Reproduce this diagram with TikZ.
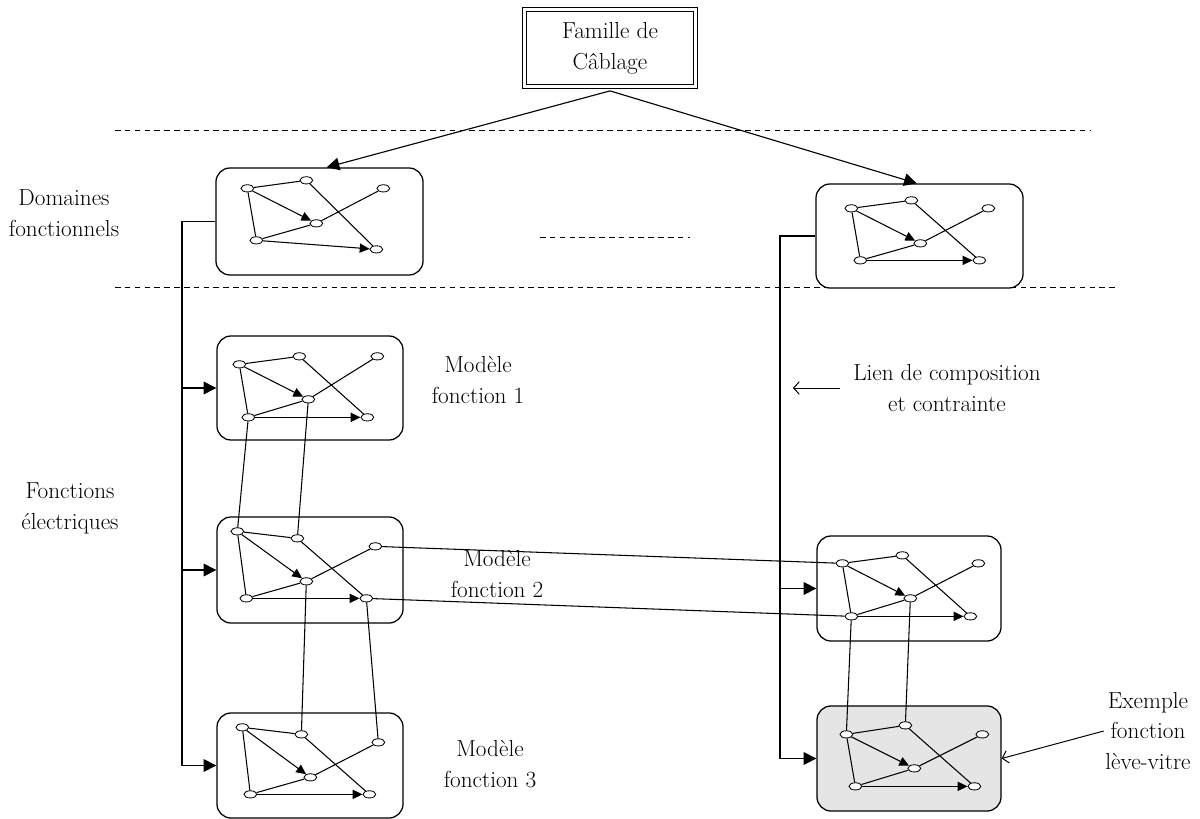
\documentclass[tikz,border=0pt]{standalone}
\usepackage{fontspec}
\usepackage{tikz}
\usetikzlibrary{arrows.meta, shapes.geometric}

% un petit reseau de six sommets, place dans la boite #2
\newcommand{\reseau}[8]{%
  \begin{scope}[shift={(#2.north west)}]
    \node[sommet] (#1a) at #3 {};
    \node[sommet] (#1b) at #4 {};
    \node[sommet] (#1c) at #5 {};
    \node[sommet] (#1d) at #6 {};
    \node[sommet] (#1e) at #7 {};
    \node[sommet] (#1f) at #8 {};
  \end{scope}
  \draw[arete] (#1a) -- (#1b);
  \draw[arete] (#1a) -- (#1e);
  \draw[arc] (#1a) -- (#1d);
  \draw[arete] (#1b) -- (#1f);
  \draw[arete] (#1e) -- (#1d);
  \draw[arete] (#1d) -- (#1c);
  \draw[arc] (#1e) -- (#1f);
}

\begin{document}
\begin{tikzpicture}[
  x=0.025cm, y=-0.025cm,
  every node/.style={font=\fontsize{16.5}{22}\selectfont},
  famille/.style={
    rectangle, draw, double, double distance=2pt, line width=0.7pt,
    minimum width=4.27cm, minimum height=1.92cm, align=center
  },
  boite/.style={
    rectangle, draw, rounded corners=10pt, line width=0.9pt, fill=white
  },
  sommet/.style={
    ellipse, draw, fill=white, line width=0.6pt,
    minimum width=0.32cm, minimum height=0.18cm, inner sep=0pt
  },
  etiq/.style={align=center, inner sep=1pt},
  arete/.style={draw, line width=0.75pt},
  arc/.style={draw, line width=0.75pt, -{Triangle[length=7pt,width=6.5pt]}},
  branche/.style={draw, line width=0.8pt, -{Triangle[length=9pt,width=9pt]}},
  renvoi/.style={draw, line width=0.7pt, -{Straight Barb[length=4pt,width=9pt]}},
  sep/.style={draw, line width=0.7pt, dash pattern=on 4pt off 3pt}
]
  \useasboundingbox (0,0) rectangle (1200,819);

  % separations
  \draw[sep] (115,130) -- (1090,130);
  \draw[sep] (115,287) -- (1118,287);
  \draw[sep] (540,237) -- (690,237);

  % boites
  \node[famille] (fam) at (610,48) {Famille de\\Câblage};
  \node[boite, minimum width=5.175cm, minimum height=2.675cm] (dom1) at (319.5,221.5) {};
  \node[boite, minimum width=5.175cm, minimum height=2.6cm] (dom2) at (919.5,236) {};
  \node[boite, minimum width=4.65cm, minimum height=2.6cm] (fn1) at (310,388) {};
  \node[boite, minimum width=4.65cm, minimum height=2.65cm] (fn2) at (310,570) {};
  \node[boite, minimum width=4.65cm, minimum height=2.625cm] (fn3) at (310,765.5) {};
  \node[boite, minimum width=4.6cm, minimum height=2.625cm] (ex2) at (909,588.5) {};
  \node[boite, minimum width=4.6cm, minimum height=2.625cm, fill=black!10] (ex3) at (909,758.5) {};

  % etiquettes
  \node[etiq] (domf) at (64,213) {Domaines\\fonctionnels};
  \node[etiq] (fonc) at (70,508) {Fonctions\\électriques};
  \node[etiq] (mod1) at (478,380) {Modèle\\fonction 1};
  \node[etiq] (mod2) at (497,574) {Modèle\\fonction 2};
  \node[etiq] (mod3) at (490,764) {Modèle\\fonction 3};
  \node[etiq] (lien) at (947,388) {Lien de composition\\et contrainte};
  \node[etiq] (exem) at (1148,731) {Exemple\\fonction\\lève-vitre};

  % reseaux
  \reseau{d}{dom1}{(32,21)}{(91,13)}{(168,21)}{(101,56)}{(41,73)}{(161,82)}
  \reseau{g}{dom2}{(36,25)}{(96,17)}{(173,25)}{(105,60)}{(45,77)}{(164,77)}
  \reseau{p}{fn1}{(23,29)}{(83,21)}{(161,21)}{(92,64)}{(32,82)}{(151,82)}
  \reseau{q}{fn2}{(21,15)}{(81,22)}{(159,30)}{(90,65)}{(30,82)}{(150,82)}
  \reseau{r}{fn3}{(26,15)}{(85,22)}{(162,30)}{(94,65)}{(34,82)}{(153,82)}
  \reseau{s}{ex2}{(26,28)}{(86,20)}{(162,28)}{(94,63)}{(35,81)}{(154,81)}
  \reseau{t}{ex3}{(30,29)}{(89,20)}{(166,29)}{(98,63)}{(39,81)}{(158,81)}

  % famille vers domaines
  \draw[branche] ([yshift=-0.1cm]fam.south) -- ([xshift=0.18cm]dom1.north);
  \draw[branche] ([yshift=-0.1cm]fam.south) -- ([xshift=-0.07cm]dom2.north);

  % liens de composition
  \coordinate (tg) at (182,0);
  \coordinate (td) at (780,0);
  \draw[line width=0.8pt] (dom1.west) -| (fn3.west -| tg);
  \draw[branche] (fn1.west -| tg) -- (fn1.west);
  \draw[branche] (fn2.west -| tg) -- (fn2.west);
  \draw[branche] (fn3.west -| tg) -- (fn3.west);
  \draw[line width=0.8pt] (dom2.west) -| (ex3.west -| td);
  \draw[branche] (ex2.west -| td) -- (ex2.west);
  \draw[branche] (ex3.west -| td) -- (ex3.west);

  % liens entre fonctions
  \draw[arete] (pe) -- (qa);
  \draw[arete] (pd) -- (qb);
  \draw[arete] (qd) -- (rb);
  \draw[arete] (qf) -- (rc);
  \draw[arete] (qc) -- (sa);
  \draw[arete] (qf) -- (se);
  \draw[arete] (se) -- (ta);
  \draw[arete] (sd) -- (tb);

  % renvois
  \coordinate (lienpt) at (793,388);
  \draw[renvoi] ([xshift=-0.3cm]lien.west) -- (lienpt);
  \draw[renvoi] (exem.west) -- (ex3.east);
\end{tikzpicture}
\end{document}
